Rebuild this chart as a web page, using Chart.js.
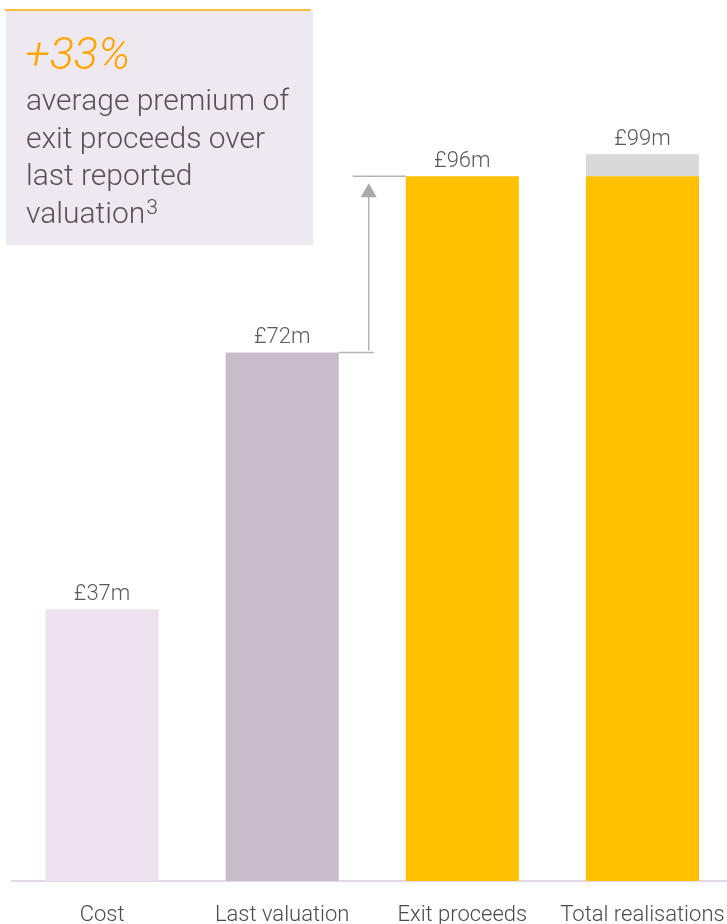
<!DOCTYPE html>
<html><head><meta charset="utf-8">
<script src="https://cdn.jsdelivr.net/npm/chart.js@4.4.1/dist/chart.umd.min.js"></script>
<style>
html,body{margin:0;padding:0;background:#fff;overflow:hidden;}
#wrap{position:relative;width:746px;height:924px;}
</style></head><body>
<div id="wrap"><canvas id="c" width="746" height="924"></canvas></div>
<script>
// Realisations bridge: cost, last valuation, exit proceeds, total realisations (£m)
const categories = ['Cost', 'Last valuation', 'Exit proceeds', 'Total realisations'];
const baseValues = [37, 72, 96, 96];
const extraValues = [0, 0, 0, 3];
const barColors = ['#ede3ef', '#c8bccb', '#ffc000', '#ffc000'];
const extraColor = '#d9d9d9';
const premiumText = '+33%';
const premiumLines = ['average premium of', 'exit proceeds over', 'last reported', 'valuation'];

const FONT = 'Roboto, "Liberation Sans", Arial, sans-serif';

const calloutPlugin = {
  id: 'callout',
  afterDraw(chart) {
    const ctx = chart.ctx;
    const ys = chart.scales.y;
    const m0 = chart.getDatasetMeta(0);

    // value labels above each stack
    ctx.save();
    ctx.font = '300 22px ' + FONT;
    ctx.fillStyle = '#5a5a5a';
    ctx.textAlign = 'center';
    ctx.textBaseline = 'alphabetic';
    categories.forEach((c, i) => {
      const total = baseValues[i] + extraValues[i];
      const x = m0.data[i].x;
      const y = ys.getPixelForValue(total);
      ctx.fillText('£' + total + 'm', x, y - 9);
    });
    ctx.restore();

    // premium arrow between last valuation and exit proceeds
    const b1 = m0.data[1], b2 = m0.data[2];
    const xL = b1.x + b1.width / 2;
    const xR = b2.x - b2.width / 2;
    const yLow = ys.getPixelForValue(baseValues[1]);
    const yHigh = ys.getPixelForValue(baseValues[2]);
    const ax = xL + 30;
    ctx.save();
    ctx.strokeStyle = '#b3b3b3';
    ctx.fillStyle = '#aaaaaa';
    ctx.lineWidth = 1.5;
    ctx.beginPath();
    ctx.moveTo(xL, yLow); ctx.lineTo(xL + 35, yLow);
    ctx.moveTo(xL + 14, yHigh); ctx.lineTo(xR, yHigh);
    ctx.moveTo(ax, yLow - 2); ctx.lineTo(ax, yHigh + 18);
    ctx.stroke();
    ctx.beginPath();
    ctx.moveTo(ax, yHigh + 7);
    ctx.lineTo(ax - 8, yHigh + 21);
    ctx.lineTo(ax + 8, yHigh + 21);
    ctx.closePath();
    ctx.fill();
    ctx.restore();

    // premium box
    ctx.save();
    ctx.fillStyle = '#eee9f0';
    ctx.fillRect(6, 11, 307, 234);
    ctx.strokeStyle = '#f7a800';
    ctx.lineWidth = 1.5;
    ctx.beginPath();
    ctx.moveTo(5, 10); ctx.lineTo(311, 10);
    ctx.stroke();
    ctx.textAlign = 'left';
    ctx.textBaseline = 'alphabetic';
    ctx.fillStyle = '#ffa400';
    ctx.font = 'italic 300 45px ' + FONT;
    ctx.fillText(premiumText, 25, 69);
    ctx.fillStyle = '#5b4d5c';
    ctx.font = '300 30px ' + FONT;
    premiumLines.forEach((t, i) => ctx.fillText(t, 26, 110 + i * 37.5));
    const w = ctx.measureText(premiumLines[3]).width;
    ctx.font = '300 21px ' + FONT;
    ctx.fillText('3', 26 + w + 1, 214);
    ctx.restore();
  }
};

new Chart(document.getElementById('c'), {
  type: 'bar',
  data: {
    labels: categories,
    datasets: [
      { data: baseValues, backgroundColor: barColors, borderWidth: 0 },
      { data: extraValues, backgroundColor: extraColor, borderWidth: 0 }
    ]
  },
  options: {
    responsive: false,
    animation: false,
    devicePixelRatio: 1,
    layout: { padding: { left: 12, right: 3, top: 0, bottom: 0 } },
    barPercentage: 0.628,
    categoryPercentage: 1,
    plugins: { legend: { display: false }, tooltip: { enabled: false } },
    scales: {
      x: {
        stacked: true,
        grid: { display: false, drawTicks: false },
        border: { display: true, color: '#e3d6e6', width: 2 },
        ticks: { color: '#4a4a4a', font: { family: FONT, size: 22, weight: '300' }, padding: 21, maxRotation: 0, autoSkip: false },
        afterFit(scale) { scale.height = 43; }
      },
      y: {
        stacked: true,
        display: false,
        min: 0,
        max: 120
      }
    }
  },
  plugins: [calloutPlugin]
});
</script>
</body></html>
